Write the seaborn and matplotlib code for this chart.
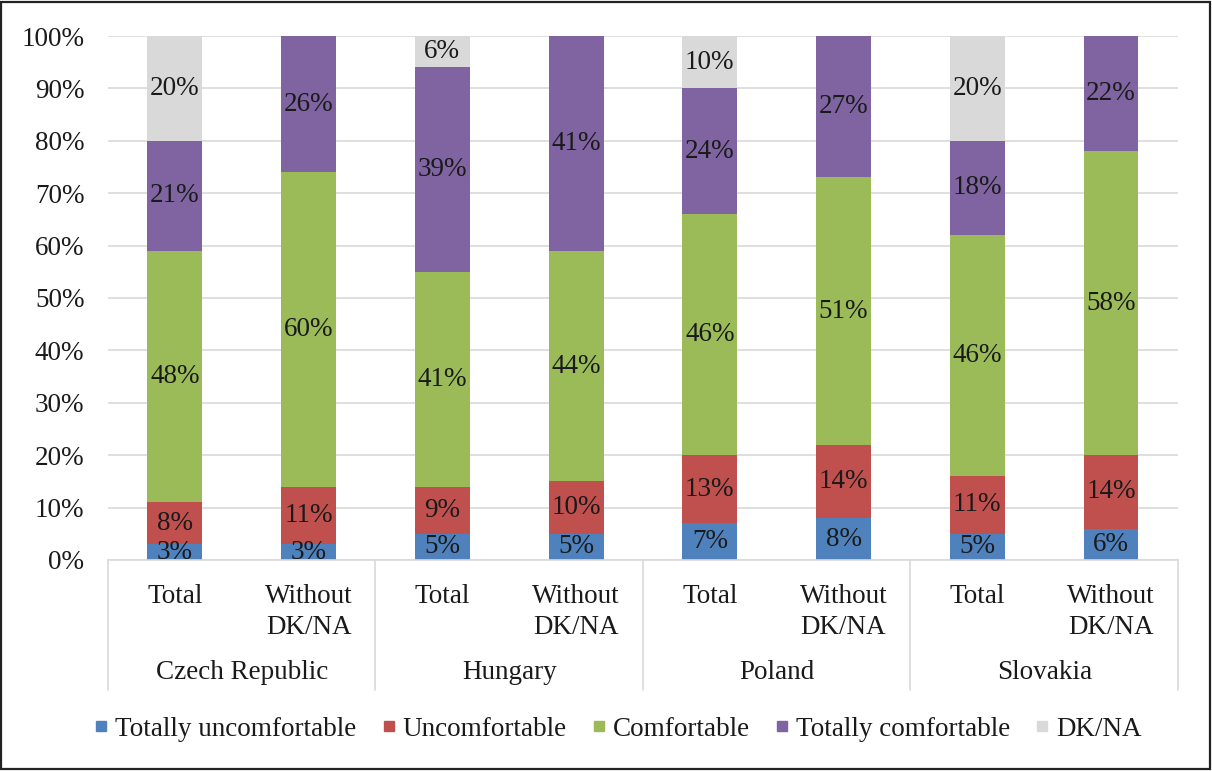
import numpy as np
import pandas as pd
import matplotlib
matplotlib.use("Agg")
import matplotlib.pyplot as plt
from matplotlib.lines import Line2D
from matplotlib.patches import Rectangle
import seaborn as sns

countries = ["Czech Republic", "Hungary", "Poland", "Slovakia"]
subgroups = ["Total", "Without\nDK/NA"]
series = ["Totally uncomfortable", "Uncomfortable", "Comfortable",
          "Totally comfortable", "DK/NA"]

# shares per bar (percent), bars ordered country by country: Total, Without DK/NA
totally_uncomfortable = [3, 3, 5, 5, 7, 8, 5, 6]
uncomfortable = [8, 11, 9, 10, 13, 14, 11, 14]
comfortable = [48, 60, 41, 44, 46, 51, 46, 58]
totally_comfortable = [21, 26, 39, 41, 24, 27, 18, 22]
dk_na = [20, 0, 6, 0, 10, 0, 20, 0]

colors = ["#4F81BD", "#C0504D", "#9BBB59", "#8064A2", "#D9D9D9"]

sns.set_theme(style="white")
plt.rcParams["font.family"] = ["Liberation Serif", "DejaVu Serif"]
FS = 19.5
TXT = "#1a1a1a"

bar_ids = [f"{c}|{s}" for c in countries for s in subgroups]
values = np.array([totally_uncomfortable, uncomfortable, comfortable,
                   totally_comfortable, dk_na], dtype=float)
cum = np.cumsum(values, axis=0)

fig = plt.figure(figsize=(12.12, 7.71), dpi=100)
ax = fig.add_axes([0.0891, 0.2737, 0.8828, 0.6796])

# stacked bars: draw cumulative totals from the top segment downwards
for k in range(len(series) - 1, -1, -1):
    df = pd.DataFrame({"bar": bar_ids, "top": cum[k] / 100.0})
    sns.barplot(data=df, x="bar", y="top", order=bar_ids, color=colors[k],
                width=0.41, saturation=1, ax=ax, zorder=2,
                linewidth=0, edgecolor="none")

# segment value labels
for k in range(len(series)):
    for i in range(len(bar_ids)):
        v = values[k, i]
        if v <= 0:
            continue
        yc = (cum[k, i] - v / 2.0) / 100.0
        ax.text(i, yc, f"{int(v)}%", ha="center", va="center",
                fontsize=FS, color=TXT, zorder=5)

ax.set_xlim(-0.5, len(bar_ids) - 0.5)
ax.set_ylim(0, 1)
ticks = np.arange(0, 1.01, 0.1)
ax.set_yticks(ticks)
ax.set_yticklabels([f"{int(round(t * 100))}%" for t in ticks],
                   fontsize=FS, color=TXT)
ax.yaxis.grid(True, color="#D9D9D9", linewidth=1.2, zorder=0)
ax.set_axisbelow(True)
ax.tick_params(axis="y", length=0, pad=17)
ax.tick_params(axis="x", length=0, pad=17)
ax.set_xticks(range(len(bar_ids)))
ax.set_xticklabels([s for c in countries for s in subgroups],
                   fontsize=FS, color=TXT, linespacing=1.35, va="top")
ax.set_xlabel("")
ax.set_ylabel("")
for side in ["left", "right", "top"]:
    ax.spines[side].set_visible(False)
ax.spines["bottom"].set_color("#D9D9D9")
ax.spines["bottom"].set_linewidth(1.2)

# country group labels and separators below the axis
trans = ax.get_xaxis_transform()
for j, c in enumerate(countries):
    ax.text(2 * j + 0.5, -0.214, c, transform=trans, ha="center",
            va="center", fontsize=FS, color=TXT)
for xs in np.arange(-0.5, len(bar_ids), 2):
    ax.add_line(Line2D([xs, xs], [0, -0.248], transform=trans,
                       color="#D9D9D9", linewidth=1.2, clip_on=False))

# legend
handles = [Line2D([], [], linestyle="none", marker="s", markersize=7.5,
                  markerfacecolor=col, markeredgecolor=col) for col in colors]
fig.legend(handles, series, loc="center", bbox_to_anchor=(0.51, 1 - 729 / 771),
           ncol=5, frameon=False, fontsize=FS, handlelength=0.5,
           handletextpad=0.25, columnspacing=0.95, labelcolor=TXT)

fig.patches.append(Rectangle((0.001, 0.002), 0.997, 0.996, transform=fig.transFigure,
                             fill=False, edgecolor="#222222", linewidth=1.6))

fig.savefig("out.png", dpi=100)
